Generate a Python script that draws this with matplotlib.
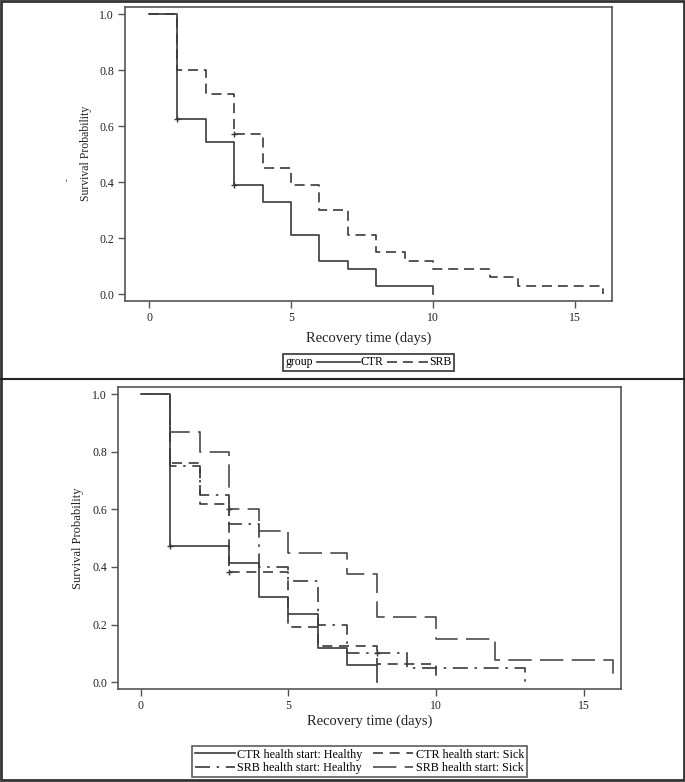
import matplotlib
matplotlib.use("Agg")
import matplotlib.pyplot as plt
from matplotlib.lines import Line2D
from matplotlib.patches import Rectangle

plt.rcParams['font.family'] = ['Liberation Serif', 'DejaVu Serif']

W, H = 685, 782

# top panel: survival by group
ctr_t = [0, 1, 2, 3, 4, 5, 6, 7, 8, 10]
ctr_s = [1.0, 0.625, 0.545, 0.39, 0.33, 0.21, 0.12, 0.09, 0.03, 0.0]
ctr_cens_t = [1, 3]
ctr_cens_s = [0.625, 0.39]

srb_t = [0, 1, 2, 3, 4, 5, 6, 7, 8, 9, 10, 12, 13, 16]
srb_s = [1.0, 0.80, 0.714, 0.571, 0.452, 0.39, 0.30, 0.21, 0.15, 0.12, 0.09, 0.06, 0.03, 0.0]
srb_cens_t = [3]
srb_cens_s = [0.571]

# bottom panel: survival by group and health at start
ctrh_t = [0, 1, 3, 4, 5, 6, 7, 8]
ctrh_s = [1.0, 0.474, 0.415, 0.296, 0.237, 0.118, 0.059, 0.0]
ctrh_cens = ([1], [0.474])

ctrs_t = [0, 1, 2, 3, 5, 6, 8, 10]
ctrs_s = [1.0, 0.762, 0.619, 0.381, 0.190, 0.127, 0.063, 0.0]
ctrs_cens = ([3], [0.381])

srbh_t = [0, 1, 2, 3, 4, 5, 6, 7, 9, 13]
srbh_s = [1.0, 0.75, 0.65, 0.55, 0.40, 0.35, 0.20, 0.10, 0.05, 0.0]
srbh_cens = ([8], [0.10])

srbs_t = [0, 1, 2, 3, 4, 5, 7, 8, 10, 12, 16]
srbs_s = [1.0, 0.867, 0.80, 0.60, 0.525, 0.45, 0.375, 0.225, 0.15, 0.075, 0.0]
srbs_cens = ([3], [0.60])

xticks = [0, 5, 10, 15]
yticks = [0.0, 0.2, 0.4, 0.6, 0.8, 1.0]

LC = '#3a3a3a'
SC = '#555555'


def fx(x):
    return x / W


def fy(y):
    return 1 - y / H


def style_axes(ax, xlim, ylim):
    ax.set_xlim(*xlim)
    ax.set_ylim(*ylim)
    ax.set_xticks(xticks)
    ax.set_yticks(yticks)
    ax.set_yticklabels(['%.1f' % v for v in yticks])
    for sp in ax.spines.values():
        sp.set_color(SC)
        sp.set_linewidth(1.2)
    ax.tick_params(direction='out', length=5, width=1, color=SC,
                   labelsize=8.5, labelcolor='#222222', pad=3)


fig = plt.figure(figsize=(W / 100, H / 100), dpi=100)

# ---- top panel
ax1 = fig.add_axes([fx(125), fy(301), fx(612 - 125), (301 - 6.7) / H])
style_axes(ax1, (-0.845, 16.3), (-0.024, 1.027))
ax1.step(ctr_t, ctr_s, where='post', color=LC, lw=1.2)
ax1.step(srb_t, srb_s, where='post', color=LC, lw=1.2, dashes=(6, 3.5))
ax1.plot(ctr_cens_t, ctr_cens_s, '+', color=LC, ms=5, mew=1)
ax1.plot(srb_cens_t, srb_cens_s, '+', color=LC, ms=5, mew=1)
ax1.set_xlabel('Recovery time (days)', fontsize=10.5, labelpad=5, color='#222222')
ax1.set_ylabel('Survival Probability', fontsize=8.5, labelpad=5, color='#222222')
fig.text(fx(68), fy(180), '-', rotation=90, fontsize=6, ha='center', va='center')

# top legend drawn by hand
fig.patches.append(Rectangle((fx(283), fy(371)), fx(454 - 283), (371 - 354) / H,
                             transform=fig.transFigure, fill=False,
                             edgecolor='#333333', lw=1.2))
fig.text(fx(286), fy(362.5), 'group', fontsize=8.5, ha='left', va='center')
fig.add_artist(Line2D([fx(317), fx(360)], [fy(362.5)] * 2, color=LC, lw=1.2,
                      transform=fig.transFigure))
fig.text(fx(361), fy(362.5), 'CTR', fontsize=8.5, ha='left', va='center')
fig.add_artist(Line2D([fx(387), fx(428)], [fy(362.5)] * 2, color=LC, lw=1.2,
                      dashes=(6, 3.5), transform=fig.transFigure))
fig.text(fx(429), fy(362.5), 'SRB', fontsize=8.5, ha='left', va='center')

# ---- bottom panel
ax2 = fig.add_axes([fx(118), fy(689), fx(621 - 118), (689 - 386.7) / H])
style_axes(ax2, (-0.77, 16.26), (-0.024, 1.026))
l1, = ax2.step(ctrh_t, ctrh_s, where='post', color=LC, lw=1.2)
l2, = ax2.step(ctrs_t, ctrs_s, where='post', color=LC, lw=1.2, dashes=(6, 4))
l3, = ax2.step(srbh_t, srbh_s, where='post', color=LC, lw=1.2,
               dashes=(9, 4, 1.5, 4))
l4, = ax2.step(srbs_t, srbs_s, where='post', color='#4a4a4a', lw=1.2,
               dashes=(14, 5))
for c in (ctrh_cens, ctrs_cens, srbh_cens, srbs_cens):
    ax2.plot(c[0], c[1], '+', color=LC, ms=5, mew=1)
ax2.set_xlabel('Recovery time (days)', fontsize=10.5, labelpad=2, color='#222222')
ax2.set_ylabel('Survival Probability', fontsize=9, labelpad=6, color='#222222')

leg = ax2.legend([l1, l3, l2, l4],
                 ['CTR health start: Healthy', 'SRB health start: Healthy',
                  'CTR health start: Sick', 'SRB health start: Sick'],
                 ncol=2, loc='upper center', bbox_to_anchor=(0.48, -0.187),
                 fontsize=8.7, frameon=True, fancybox=False, handlelength=3.3,
                 handletextpad=0.2, columnspacing=0.9, borderpad=0.25,
                 labelspacing=0.12, borderaxespad=0)
leg.get_frame().set_edgecolor('#333333')
leg.get_frame().set_linewidth(1.2)

# panel borders
fig.patches.append(Rectangle((0.001, 0.002), 0.997, 0.997, transform=fig.transFigure,
                             fill=False, edgecolor='#333333', lw=2))
fig.add_artist(Line2D([0, 1], [fy(379.3)] * 2, color='#222222', lw=1.5,
                      transform=fig.transFigure))

fig.savefig('out.png', dpi=100)
